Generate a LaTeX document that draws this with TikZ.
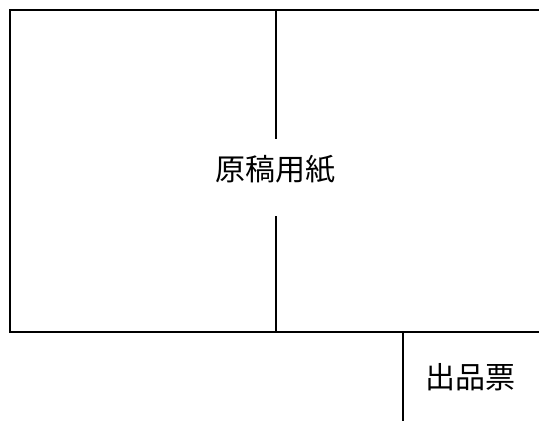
\documentclass[tikz,border=0pt]{standalone}
\usepackage{fontspec}
\newfontfamily\cjk{Noto Sans CJK JP}
\begin{document}
\begin{tikzpicture}[x=1pt,y=-1pt,
  frame/.style={line width=2pt,line cap=rect},
  lbl/.style={inner sep=0pt,font=\cjk\fontsize{30}{30}\selectfont}]
\useasboundingbox (0,0) rectangle (539,421);
\node[lbl] (genko) at (275,169) {原稿用紙};
\node[lbl] (shuppin) at (470,377) {出品票};
\coordinate (tl) at (10,10);
\coordinate (tr) at (545,10);
\coordinate (bl) at (10,332);
\coordinate (br) at (545,332);
\coordinate (mt) at (276,10);
\coordinate (mb) at (276,332);
\coordinate (st) at (403,332);
\coordinate (sb) at (403,425);
\draw[frame] (tr) -- (tl) -- (bl) -- (br);
\draw[frame] (mt) -- (mt |- 0,138);
\draw[frame] (mb) -- (mb |- 0,217);
\draw[frame] (st) -- (sb);
\end{tikzpicture}
\end{document}
